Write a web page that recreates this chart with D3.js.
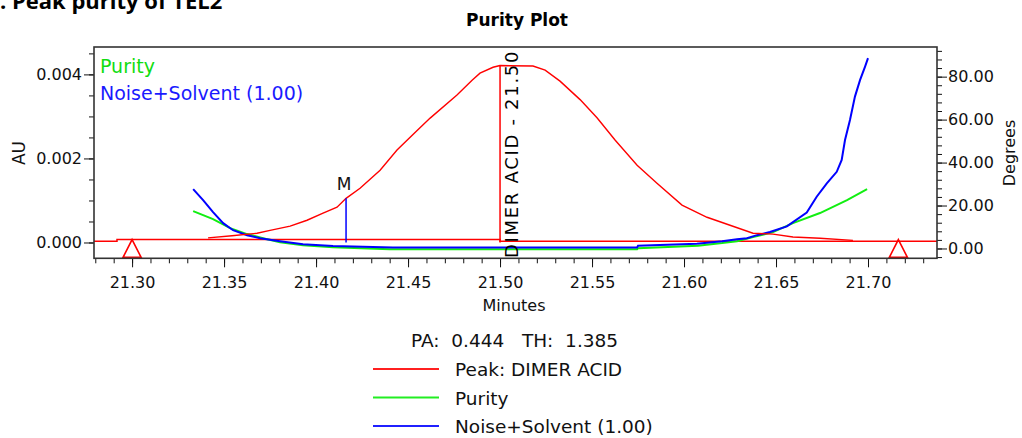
<!DOCTYPE html>
<html lang="en">
  <head>
    <meta charset="utf-8">
    <title>Purity Plot</title>
    <script src="https://d3js.org/d3.v7.js"></script>
    <style>
      body { margin: 0; background: #fff; }
      text { font-family: "DejaVu Sans", sans-serif; fill: #111; }
      .tick line { stroke: #111; }
    </style>
  </head>
  <body>
    <script type="text/javascript">
      // Data
      // chromatogram (AU) against minutes
      var chromTime = [21.3413, 21.3543, 21.3679, 21.375, 21.3859, 21.3951, 21.4038, 21.4114, 21.4163, 21.4239,
                       21.4348, 21.444, 21.4538, 21.462, 21.4766, 21.4848, 21.4891, 21.4962, 21.50, 21.5179,
                       21.5245, 21.5326, 21.5435, 21.5527, 21.5625, 21.5745, 21.5853, 21.5989, 21.6125, 21.625,
                       21.6375, 21.6484, 21.6592, 21.6739, 21.6918];
      var chromAU = [0.00011, 0.00016, 0.00022, 0.00029, 0.00039, 0.00053, 0.0007, 0.00084, 0.00105, 0.00129,
                     0.00172, 0.0022, 0.00262, 0.00296, 0.00351, 0.00386, 0.00403, 0.00417, 0.00421, 0.0042,
                     0.0041, 0.00384, 0.0034, 0.00297, 0.00244, 0.00184, 0.00141, 0.00089, 0.0006, 0.00041,
                     0.00022, 0.0002, 0.00013, 0.0001, 0.00005];

      // integration baseline (AU)
      var baseTime = [21.2793, 21.2918, 21.2918, 21.50, 21.50, 21.7375];
      var baseAU = [0.00003, 0.00003, 0.00007, 0.00007, 0.00003, 0.00003];

      // purity angle (degrees)
      var purityTime = [21.3332, 21.3386, 21.344, 21.3533, 21.3625, 21.3712, 21.3804, 21.3929, 21.4092, 21.44,
                        21.5745, 21.575, 21.6076, 21.6207, 21.6288, 21.6375, 21.6484, 21.6592, 21.6739, 21.6886, 21.6995];
      var purityDeg = [17.4, 15.5, 13.7, 9.5, 6.7, 4.8, 2.9, 1.5, 0.6, -0.3,
                       -0.3, 0.1, 1.3, 2.5, 3.4, 5.3, 7.6, 11.8, 16.5, 22.5, 27.6];

      // noise + solvent threshold (degrees)
      var noiseTime = [21.3332, 21.3386, 21.344, 21.3495, 21.3549, 21.3625, 21.3696, 21.3804, 21.3929, 21.4092,
                       21.4418, 21.5745, 21.575, 21.607, 21.6207, 21.6288, 21.6342, 21.6397, 21.6467, 21.6559,
                       21.6667, 21.6721, 21.6776, 21.683, 21.6857, 21.6875, 21.6902, 21.6929, 21.6957, 21.6984, 21.70];
      var noiseDeg = [27.6, 22.5, 16.9, 11.8, 8.5, 6.2, 4.8, 3.4, 2.0, 1.1,
                      0.5, 0.5, 1.3, 2.2, 3.4, 4.3, 4.8, 6.2, 7.7, 10.3,
                      16.7, 24.1, 30.3, 35.7, 41.2, 50.5, 59.8, 70.7, 78.5, 84.7, 88.6];

      // peak markers
      var peakName = "DIMER ACID";
      var apexTime = 21.50, apexAU = 0.00421;
      var markTime = 21.4163, markAU = 0.00105;
      var limitTimes = [21.30, 21.7165];

      // ticks
      var xMajor = [21.30, 21.35, 21.40, 21.45, 21.50, 21.55, 21.60, 21.65, 21.70];
      var auMajor = [0.000, 0.002, 0.004];
      var degMajor = [0, 20, 40, 60, 80];

      var legendNames = ["Peak: DIMER ACID", "Purity", "Noise+Solvent (1.00)"];
      var legendColors = ["#ff2020", "#22ee22", "#2020ff"];
      var paText = "PA:  0.444   TH:  1.385";

      var w = 1022, h = 438;
      var plotL = 94, plotR = 937, plotT = 47, plotB = 258.3;

      var svg = d3.select("body").append("svg")
          .attr("width", w)
          .attr("height", h);

      svg.append("rect").attr("width", w).attr("height", h).attr("fill", "#fff");

      var xScale = d3.scaleLinear().domain([21.2793, 21.7375]).range([plotL, plotR]);
      var yAU = d3.scaleLinear().domain([-0.000376, 0.004652]).range([plotB, plotT]);
      var yDeg = d3.scaleLinear().domain([-4.57, 93.8]).range([plotB, plotT]);

      // caption and title
      svg.append("text")
          .attr("x", 0).attr("y", 9)
          .style("font-family", "'Open Sans', sans-serif")
          .style("font-weight", "bold")
          .style("font-size", "22px")
          .style("fill", "#000")
          .text(". Peak purity of TEL2");

      svg.append("text")
          .attr("x", 517).attr("y", 26)
          .attr("text-anchor", "middle")
          .style("font-weight", "bold")
          .style("font-size", "17px")
          .style("fill", "#000")
          .text("Purity Plot");

      // axes
      var minorX = d3.range(21.28, 21.74, 0.01).filter(d => d >= 21.2793 && d <= 21.7375);
      var minorAU = d3.range(-0.0005, 0.0047, 0.0005).filter(d => d >= -0.000376 && d <= 0.004652);
      var minorDeg = d3.range(-4, 94, 4);

      function cleanAxis(g) { g.select(".domain").remove(); }

      svg.append("g").attr("transform", `translate(0, ${plotB})`)
          .call(d3.axisBottom(xScale).tickValues(minorX).tickSize(5).tickFormat(""))
          .call(cleanAxis);
      svg.append("g").attr("transform", `translate(0, ${plotB})`)
          .call(d3.axisBottom(xScale).tickValues(xMajor).tickSize(9).tickPadding(9).tickFormat(d3.format(".2f")))
          .call(cleanAxis)
          .selectAll("text").style("font-size", "16px").style("font-family", "'DejaVu Sans', sans-serif");

      svg.append("g").attr("transform", `translate(${plotL}, 0)`)
          .call(d3.axisLeft(yAU).tickValues(minorAU).tickSize(5).tickFormat(""))
          .call(cleanAxis);
      svg.append("g").attr("transform", `translate(${plotL}, 0)`)
          .call(d3.axisLeft(yAU).tickValues(auMajor).tickSize(10).tickPadding(2).tickFormat(d3.format(".3f")))
          .call(cleanAxis)
          .selectAll("text").style("font-size", "16px").style("font-family", "'DejaVu Sans', sans-serif");

      svg.append("g").attr("transform", `translate(${plotR}, 0)`)
          .call(d3.axisRight(yDeg).tickValues(minorDeg).tickSize(5).tickFormat(""))
          .call(cleanAxis);
      svg.append("g").attr("transform", `translate(${plotR}, 0)`)
          .call(d3.axisRight(yDeg).tickValues(degMajor).tickSize(10).tickPadding(1).tickFormat(d3.format(".2f")))
          .call(cleanAxis)
          .selectAll("text").style("font-size", "16px").style("font-family", "'DejaVu Sans', sans-serif");

      // axis titles
      svg.append("text")
          .attr("transform", "translate(19, 153) rotate(-90)")
          .attr("text-anchor", "middle").attr("dominant-baseline", "central")
          .style("font-size", "17px")
          .text("AU");
      svg.append("text")
          .attr("transform", "translate(1009, 153) rotate(-90)")
          .attr("text-anchor", "middle").attr("dominant-baseline", "central")
          .style("font-size", "16px")
          .text("Degrees");
      svg.append("text")
          .attr("x", 514).attr("y", 311)
          .attr("text-anchor", "middle")
          .style("font-size", "16px")
          .text("Minutes");

      // lines
      var lineAU = d3.line().x(d => xScale(d[0])).y(d => yAU(d[1]));
      var lineDeg = d3.line().x(d => xScale(d[0])).y(d => yDeg(d[1]));

      svg.append("path")
          .attr("d", lineAU(d3.zip(baseTime, baseAU)))
          .attr("fill", "none").attr("stroke", "#ff0000").attr("stroke-width", 1.5);

      svg.append("path")
          .attr("d", lineDeg(d3.zip(purityTime, purityDeg)))
          .attr("fill", "none").attr("stroke", "#11ee11").attr("stroke-width", 2);

      svg.append("path")
          .attr("d", lineDeg(d3.zip(noiseTime, noiseDeg)))
          .attr("fill", "none").attr("stroke", "#0000ff").attr("stroke-width", 2);

      svg.append("path")
          .attr("d", lineAU(d3.zip(chromTime, chromAU)))
          .attr("fill", "none").attr("stroke", "#ff0000").attr("stroke-width", 1.4);

      // apex line and label
      svg.append("line")
          .attr("x1", xScale(apexTime)).attr("x2", xScale(apexTime))
          .attr("y1", yAU(0)).attr("y2", yAU(apexAU))
          .attr("stroke", "#ff0000").attr("stroke-width", 1.5);

      svg.append("text")
          .attr("transform", `translate(${xScale(apexTime) + 18}, 258) rotate(-90)`)
          .style("font-size", "18px")
          .style("letter-spacing", "1.7px")
          .style("fill", "#000")
          .text(peakName + " - " + d3.format(".2f")(apexTime));

      // M marker
      svg.append("line")
          .attr("x1", xScale(markTime)).attr("x2", xScale(markTime))
          .attr("y1", yAU(0)).attr("y2", yAU(markAU))
          .attr("stroke", "#0000ff").attr("stroke-width", 1.5);
      svg.append("text")
          .attr("x", xScale(markTime) - 2).attr("y", 190)
          .attr("text-anchor", "middle")
          .style("font-size", "17px")
          .text("M");

      // peak limit triangles
      svg.selectAll(".limit")
          .data(limitTimes)
          .enter().append("path")
          .attr("class", "limit")
          .attr("d", d => `M${xScale(d)},${yAU(0.00007)} L${xScale(d) + 9},${plotB - 1} L${xScale(d) - 9},${plotB - 1} Z`)
          .attr("fill", "none").attr("stroke", "#ff0000").attr("stroke-width", 1.6);

      // frame
      svg.append("rect")
          .attr("x", plotL).attr("y", plotT)
          .attr("width", plotR - plotL).attr("height", plotB - plotT)
          .attr("fill", "none").attr("stroke", "#333").attr("stroke-width", 1.6);

      // in-plot legend
      svg.append("text").attr("x", 100).attr("y", 73)
          .style("font-size", "19px").style("fill", "#11dd11").text(legendNames[1]);
      svg.append("text").attr("x", 100).attr("y", 100)
          .style("font-size", "19px").style("fill", "#1a1aff").text(legendNames[2]);

      // bottom legend
      svg.append("text")
          .attr("x", 411).attr("y", 347)
          .style("font-size", "18.5px")
          .style("white-space", "pre")
          .text(paText);

      var legend = svg.append("g").selectAll("g")
          .data(legendNames)
          .enter().append("g")
          .attr("transform", (d, i) => `translate(0, ${369 + i * 28.5})`);

      legend.append("line")
          .attr("x1", 373).attr("x2", 439)
          .attr("stroke", (d, i) => legendColors[i])
          .attr("stroke-width", 2);

      legend.append("text")
          .attr("x", 455).attr("y", 7)
          .style("font-size", "18.5px")
          .text(d => d);
    </script>
  </body>
</html>
